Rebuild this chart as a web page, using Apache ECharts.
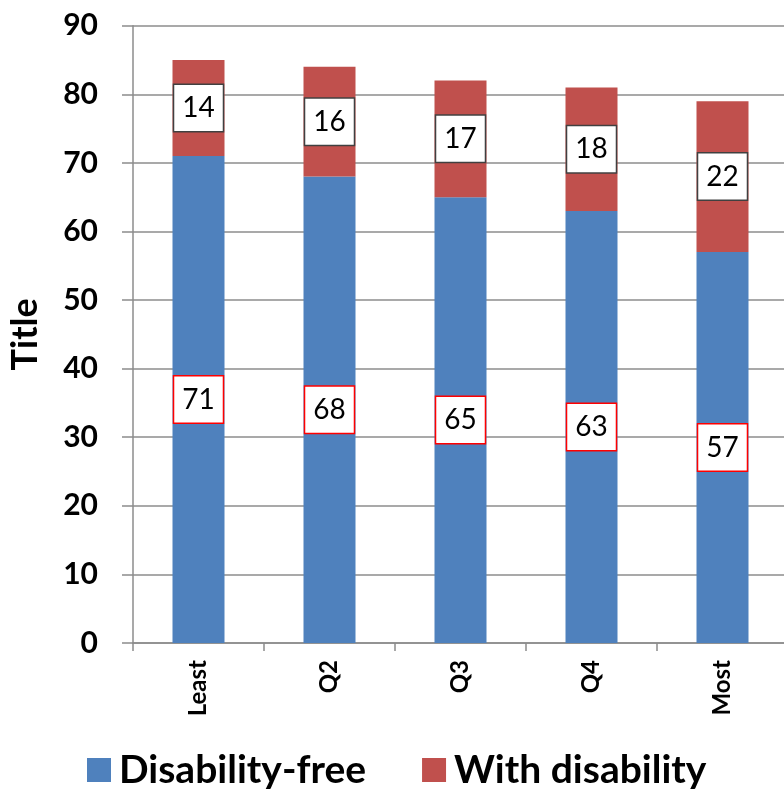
<!DOCTYPE html>
<html>
<head>
<meta charset="utf-8">
<script src="https://cdn.jsdelivr.net/npm/echarts@6/dist/echarts.min.js"></script>
<style>
  html, body { margin: 0; padding: 0; background: #fff; }
  #chart { width: 784px; height: 789px; }
</style>
</head>
<body>
<div id="chart"></div>
<script>
// Quintile categories and the two stacked components
const categories = ['Least', 'Q2', 'Q3', 'Q4', 'Most'];
const disabilityFree = [71, 68, 65, 63, 57];
const withDisability = [14, 16, 17, 18, 22];
const seriesNames = ['Disability-free', 'With disability'];
const yTicks = { min: 0, max: 90, interval: 10 };
const axisTitle = 'Title';

const FONT = 'Lato, "Open Sans", sans-serif';
const GRID_GRAY = '#8c8c8c';

const chart = echarts.init(document.getElementById('chart'), null, { renderer: 'canvas' });

function boxLabel(borderColor) {
  return {
    show: true,
    position: 'inside',
    color: '#000',
    fontFamily: FONT,
    fontSize: 28,
    lineHeight: 28,
    backgroundColor: '#fff',
    borderColor: borderColor,
    borderWidth: 1.5,
    padding: [9, 8, 9, 8]
  };
}

chart.setOption({
  animation: false,
  backgroundColor: '#fff',
  grid: {
    left: 133, right: -4, top: 25.7, bottom: 146,
    containLabel: false,
    outerBoundsMode: 'none'
  },
  legend: {
    left: 82,
    top: 745,
    icon: 'rect',
    itemWidth: 24,
    itemHeight: 24,
    itemGap: 56,
    textStyle: {
      fontFamily: FONT,
      fontWeight: 'bold',
      fontSize: 39,
      lineHeight: 40,
      color: '#000',
      padding: [0, 0, 0, 3]
    },
    data: seriesNames
  },
  xAxis: {
    type: 'category',
    data: categories,
    axisLine: { lineStyle: { color: GRID_GRAY, width: 1.5 } },
    axisTick: { show: true, length: 8, lineStyle: { color: GRID_GRAY, width: 1.5 } },
    axisLabel: {
      rotate: 90,
      margin: 17,
      color: '#000',
      fontFamily: FONT,
      fontWeight: 'bold',
      fontSize: 24
    }
  },
  yAxis: {
    type: 'value',
    min: yTicks.min,
    max: yTicks.max,
    interval: yTicks.interval,
    name: axisTitle,
    nameLocation: 'middle',
    nameGap: 90,
    nameRotate: 90,
    nameTextStyle: {
      fontFamily: FONT,
      fontWeight: 'bold',
      fontSize: 36,
      color: '#000'
    },
    axisLine: { show: true, lineStyle: { color: GRID_GRAY, width: 1.5 } },
    axisTick: { show: true, length: 11, lineStyle: { color: GRID_GRAY, width: 1.5 } },
    axisLabel: {
      margin: 35,
      color: '#000',
      fontFamily: FONT,
      fontWeight: 'bold',
      fontSize: 30
    },
    splitLine: { show: true, lineStyle: { color: GRID_GRAY, width: 1.5 } }
  },
  series: [
    {
      name: seriesNames[0],
      type: 'bar',
      stack: 'total',
      barWidth: 52,
      data: disabilityFree,
      itemStyle: { color: '#4F81BD' },
      label: boxLabel('#ff0000')
    },
    {
      name: seriesNames[1],
      type: 'bar',
      stack: 'total',
      barWidth: 52,
      data: withDisability,
      itemStyle: { color: '#C0504D' },
      label: boxLabel('#404040')
    }
  ]
});
</script>
</body>
</html>
